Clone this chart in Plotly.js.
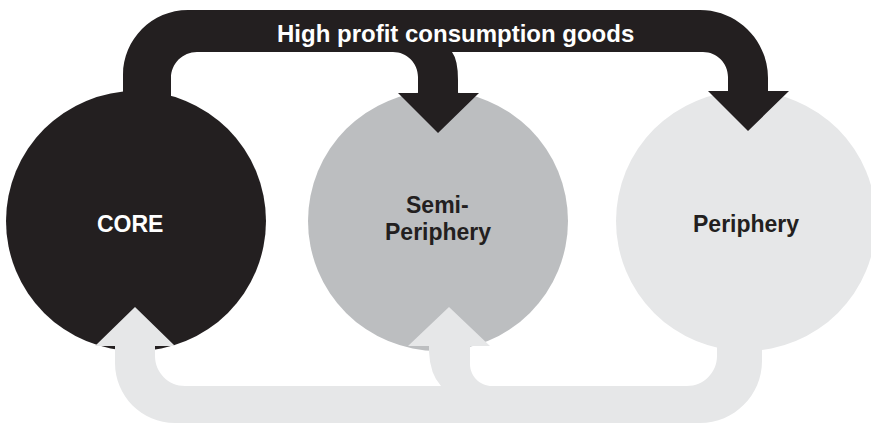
<!DOCTYPE html>
<html><head><meta charset="utf-8">
<script src="https://cdn.plot.ly/plotly-3.0.1.min.js"></script>
<style>html,body{margin:0;padding:0;background:#fff}#chart{width:871px;height:425px}</style>
</head><body><div id="chart"></div>
<script>
// ---------- data ----------
var zones = ['CORE', 'Semi-Periphery', 'Periphery'];
var zoneLabelLines = [['CORE'], ['Semi-', 'Periphery'], ['Periphery']];
var topFlowLabel = 'High profit consumption goods';
var topFlowFrom = 'CORE';
var topFlowTo = ['Semi-Periphery', 'Periphery'];
var bottomFlowFrom = 'Periphery';
var bottomFlowTo = ['Semi-Periphery', 'CORE'];

// ---------- geometry (pixel space, y down) ----------
var W = 871, H = 425;
var zoneCx = [136, 438, 746], zoneCy = 221, zoneR = 130;
var zoneFill = ['#231f20', '#bcbec0', '#e6e7e8'];
var zoneTextColor = ['#ffffff', '#231f20', '#231f20'];
var labelX = [130, 437.5, 746];
var labelY = [[224], [205, 232], [224]];
var FONT = 'Liberation Sans, Arial, Helvetica, sans-serif';

function roundedPath(items) {
  var k = 0.5523, n = items.length, d = '', started = false;
  function prevPt(i){ for (var j=1;j<n;j++){ var q=items[(i-j+n)%n]; if (typeof q!=='string') return q; } }
  function nextPt(i){ for (var j=1;j<n;j++){ var q=items[(i+j)%n]; if (typeof q!=='string') return q; } }
  for (var i = 0; i < n; i++) {
    var p = items[i];
    if (typeof p === 'string') { d += p + ' '; continue; }
    var r = p[2] || 0;
    if (!r) { d += (started ? 'L' : 'M') + p[0] + ',' + p[1] + ' '; started = true; continue; }
    var a = prevPt(i), b = nextPt(i);
    var ix = p[0]-a[0], iy = p[1]-a[1], il = Math.hypot(ix, iy); ix/=il; iy/=il;
    var ox = b[0]-p[0], oy = b[1]-p[1], ol = Math.hypot(ox, oy); ox/=ol; oy/=ol;
    var sx = p[0]-ix*r, sy = p[1]-iy*r, ex = p[0]+ox*r, ey = p[1]+oy*r;
    d += (started ? 'L' : 'M') + sx + ',' + sy + ' ';
    started = true;
    d += 'C' + (sx+ix*r*k) + ',' + (sy+iy*r*k) + ' ' + (ex-ox*r*k) + ',' + (ey-oy*r*k) + ' ' + ex + ',' + ey + ' ';
  }
  return d + 'Z';
}

var topBand = roundedPath([
  [123,130],
  [123,10,65],
  [768,10,68],
  [768,91],[789,91],[748,131],[708,91],[728,91],
  [728,52,25],
  [452,52],
  'Q458,60 458,80',
  [458,93],[479,93],[438,133],[398,93],[418,93],
  [418,52,25],
  [171,52,26],
  [171,130]
]);

var bottomBand = roundedPath([
  [135,307],[175,346],[155,346],
  [155,386,30],
  [441,386],
  'Q430,374 429,352',
  [429,346],[408,346],[449,307],[490,346],[470,346],
  [470,386,22],
  [717,386,30],
  [717,320],[762,320],
  [762,423,62],
  [115,423,60],
  [115,346],[95,346]
]);

var shapes = [];
zones.forEach(function (z, i) {
  shapes.push({type:'circle', xref:'x', yref:'y',
    x0: zoneCx[i]-zoneR, x1: zoneCx[i]+zoneR, y0: zoneCy-zoneR, y1: zoneCy+zoneR,
    fillcolor: zoneFill[i], line:{width:0}});
});
shapes.push({type:'path', xref:'x', yref:'y', path: topBand, fillcolor: zoneFill[zones.indexOf(topFlowFrom)], line:{width:0}});
shapes.push({type:'path', xref:'x', yref:'y', path: bottomBand, fillcolor: zoneFill[zones.indexOf(bottomFlowFrom)], line:{width:0}});

var annotations = [];
zones.forEach(function (z, i) {
  zoneLabelLines[i].forEach(function (line, j) {
    annotations.push({x: labelX[i], y: labelY[i][j], xref:'x', yref:'y', showarrow:false,
      text: '<b>' + line + '</b>', xanchor:'center', yanchor:'middle',
      font:{family: FONT, size: 23, color: zoneTextColor[i]}});
  });
});
annotations.push({x: 455.5, y: 33.5, xref:'x', yref:'y', showarrow:false,
  text: '<b>' + topFlowLabel + '</b>', xanchor:'center', yanchor:'middle',
  font:{family: FONT, size: 24, color: '#ffffff'}});

var layout = {
  width: W, height: H, autosize: false,
  margin: {l:0, r:0, t:0, b:0, pad:0},
  paper_bgcolor: '#ffffff', plot_bgcolor: '#ffffff',
  showlegend: false,
  xaxis: {range: [0, W], visible: false, fixedrange: true},
  yaxis: {range: [H, 0], visible: false, fixedrange: true},
  shapes: shapes,
  annotations: annotations
};

Plotly.newPlot('chart', [{x: [], y: [], type: 'scatter', mode: 'markers', hoverinfo: 'skip'}], layout,
  {staticPlot: true, displayModeBar: false});
</script>
</body></html>
